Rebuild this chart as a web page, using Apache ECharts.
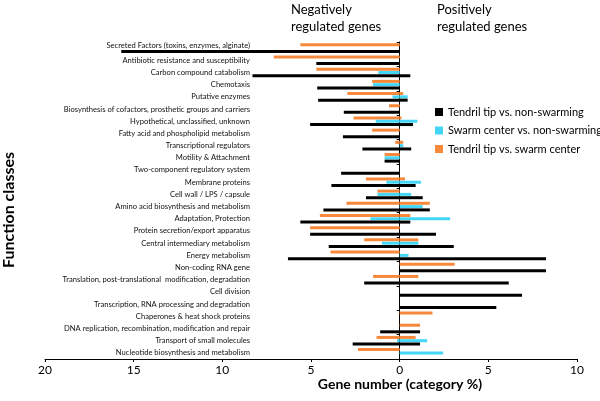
<!DOCTYPE html>
<html>
<head>
<meta charset="utf-8">
<script src="https://cdn.jsdelivr.net/npm/echarts@6/dist/echarts.min.js"></script>
<style>html,body{margin:0;padding:0;background:#fff}#c{width:600px;height:401px}</style>
</head>
<body>
<div id="c"></div>
<script>
var categories = [
  "Secreted Factors (toxins, enzymes, alginate)",
  "Antibiotic resistance and susceptibility",
  "Carbon compound catabolism",
  "Chemotaxis",
  "Putative enzymes",
  "Biosynthesis of cofactors, prosthetic groups and carriers",
  "Hypothetical, unclassified, unknown",
  "Fatty acid and phospholipid metabolism",
  "Transcriptional regulators",
  "Motility & Attachment",
  "Two-component regulatory system",
  "Membrane proteins",
  "Cell wall / LPS / capsule",
  "Amino acid biosynthesis and metabolism",
  "Adaptation, Protection",
  "Protein secretion/export apparatus",
  "Central intermediary metabolism",
  "Energy metabolism",
  "Non-coding RNA gene",
  "Translation, post-translational  modification, degradation",
  "Cell division",
  "Transcription, RNA processing and degradation",
  "Chaperones & heat shock proteins",
  "DNA replication, recombination, modification and repair",
  "Transport of small molecules",
  "Nucleotide biosynthesis and metabolism"
];
var seriesNames = ["Tendril tip vs. non-swarming", "Swarm center vs. non-swarming", "Tendril tip vs. swarm center"];
var tickLabels = ["20", "15", "10", "5", "0", "5", "10"];

var blackNeg  = [-15.7,-4.7,-8.3,-4.65,-4.6,-3.15,-5.05,-3.2,-2.1,-0.85,-3.3,-3.85,-1.9,-4.3,-5.6,-5.05,-4.0,-6.3,0,-2.0,0,0,0,-1.1,-2.65,0];
var blackPos  = [0,0,0.6,0,0.45,0,0.75,0,0.65,0,0,0.9,1.3,1.7,0.6,2.05,3.05,8.25,8.25,6.15,6.9,5.45,0,1.15,1.15,0];
var cyanNeg   = [0,0,-1.2,-1.5,-0.4,0,-1.35,0,0,-0.85,0,-0.75,-1.25,0,-1.65,0,-1.0,0,0,0,0,0,0,0,-0.15,0];
var cyanPos   = [0,0,0,0,0.45,0,1.0,0,0.2,0,0,1.2,0.65,1.3,2.85,0,1.05,0.5,0,0,0,0,0,0,1.55,2.45];
var orangeNeg = [-5.6,-7.1,-4.7,-1.55,-2.95,-0.6,-2.6,-1.55,-0.25,-0.85,0,-1.9,-1.25,-3.0,-4.5,-5.05,-2.0,-3.9,0,-1.5,0,0,0,0,-1.3,-2.35];
var orangePos = [0,0,0,0,0.2,0,0.1,0,0.2,0,0,0.3,0,1.7,0.6,0,1.05,0,3.1,1.05,0,0,1.85,1.15,0.9,0];

var colors = {black: "#000000", cyan: "#44d6f6", orange: "#f8883a"};
var FONT = "Lato";

function bar(name, stack, color, data) {
  return {
    name: name, type: "bar", stack: stack, data: data,
    barWidth: 3, barGap: "10%",
    itemStyle: {color: color},
    emphasis: {disabled: true},
    animation: false,
    z: 3
  };
}

var chart = echarts.init(document.getElementById("c"));
chart.setOption({
  animation: false,
  textStyle: {fontFamily: FONT},
  grid: {left: 45, right: 23, top: 42, bottom: 42, containLabel: false, outerBoundsMode: "none"},
  legend: {
    orient: "vertical", left: 430, top: 100,
    data: seriesNames,
    icon: "rect", itemWidth: 8, itemHeight: 8, itemGap: 4.5,
    textStyle: {fontFamily: FONT, fontSize: 11, color: "#000", lineHeight: 14}
  },
  xAxis: {
    type: "value", min: -20, max: 10, interval: 5,
    axisLine: {show: true, lineStyle: {color: "#000", width: 1}},
    axisTick: {show: true, length: 3, lineStyle: {color: "#000"}},
    splitLine: {show: false},
    axisLabel: {
      margin: 5, color: "#000", fontSize: 12, fontFamily: FONT,
      formatter: function (v) { return tickLabels[Math.round((v + 20) / 5)]; }
    }
  },
  yAxis: [{
    type: "category", data: categories, inverse: true,
    axisLine: {show: true, onZero: true, lineStyle: {color: "#000", width: 1}},
    axisTick: {show: true, length: 3, lineStyle: {color: "#000"}},
    axisLabel: {show: false}
  }, {
    type: "category", data: categories, inverse: true, position: "left", offset: -205,
    axisLine: {show: false, onZero: false},
    axisTick: {show: false},
    axisLabel: {
      interval: 0, margin: 0, color: "#111", fontSize: 7.6, fontFamily: FONT,
      formatter: function (v, i) { return i === 0 ? "{up|" + v + "}" : v; },
      rich: {up: {fontSize: 7.6, fontFamily: FONT, color: "#111", padding: [0, 0, 6, 0]}}
    }
  }],
  series: [
    bar(seriesNames[2], "o", colors.orange, orangeNeg),
    bar(seriesNames[2], "o", colors.orange, orangePos),
    bar(seriesNames[1], "c", colors.cyan, cyanNeg),
    bar(seriesNames[1], "c", colors.cyan, cyanPos),
    bar(seriesNames[0], "k", colors.black, blackNeg),
    bar(seriesNames[0], "k", colors.black, blackPos)
  ],
  graphic: [
    {type: "text", left: 291, top: 1, style: {text: "Negatively\nregulated genes", font: "13px " + FONT, fill: "#000", lineHeight: 17}},
    {type: "text", left: 437, top: 1, style: {text: "Positively\nregulated genes", font: "13px " + FONT, fill: "#000", lineHeight: 17}},
    {type: "text", x: 9, y: 210, rotation: Math.PI / 2, style: {text: "Function classes", font: "bold 16px " + FONT, fill: "#000", align: "center", verticalAlign: "middle"}},
    {type: "text", x: 400, y: 384, style: {text: "Gene number (category %)", font: "bold 14px " + FONT, fill: "#000", align: "center", verticalAlign: "middle"}}
  ]
});
</script>
</body>
</html>
